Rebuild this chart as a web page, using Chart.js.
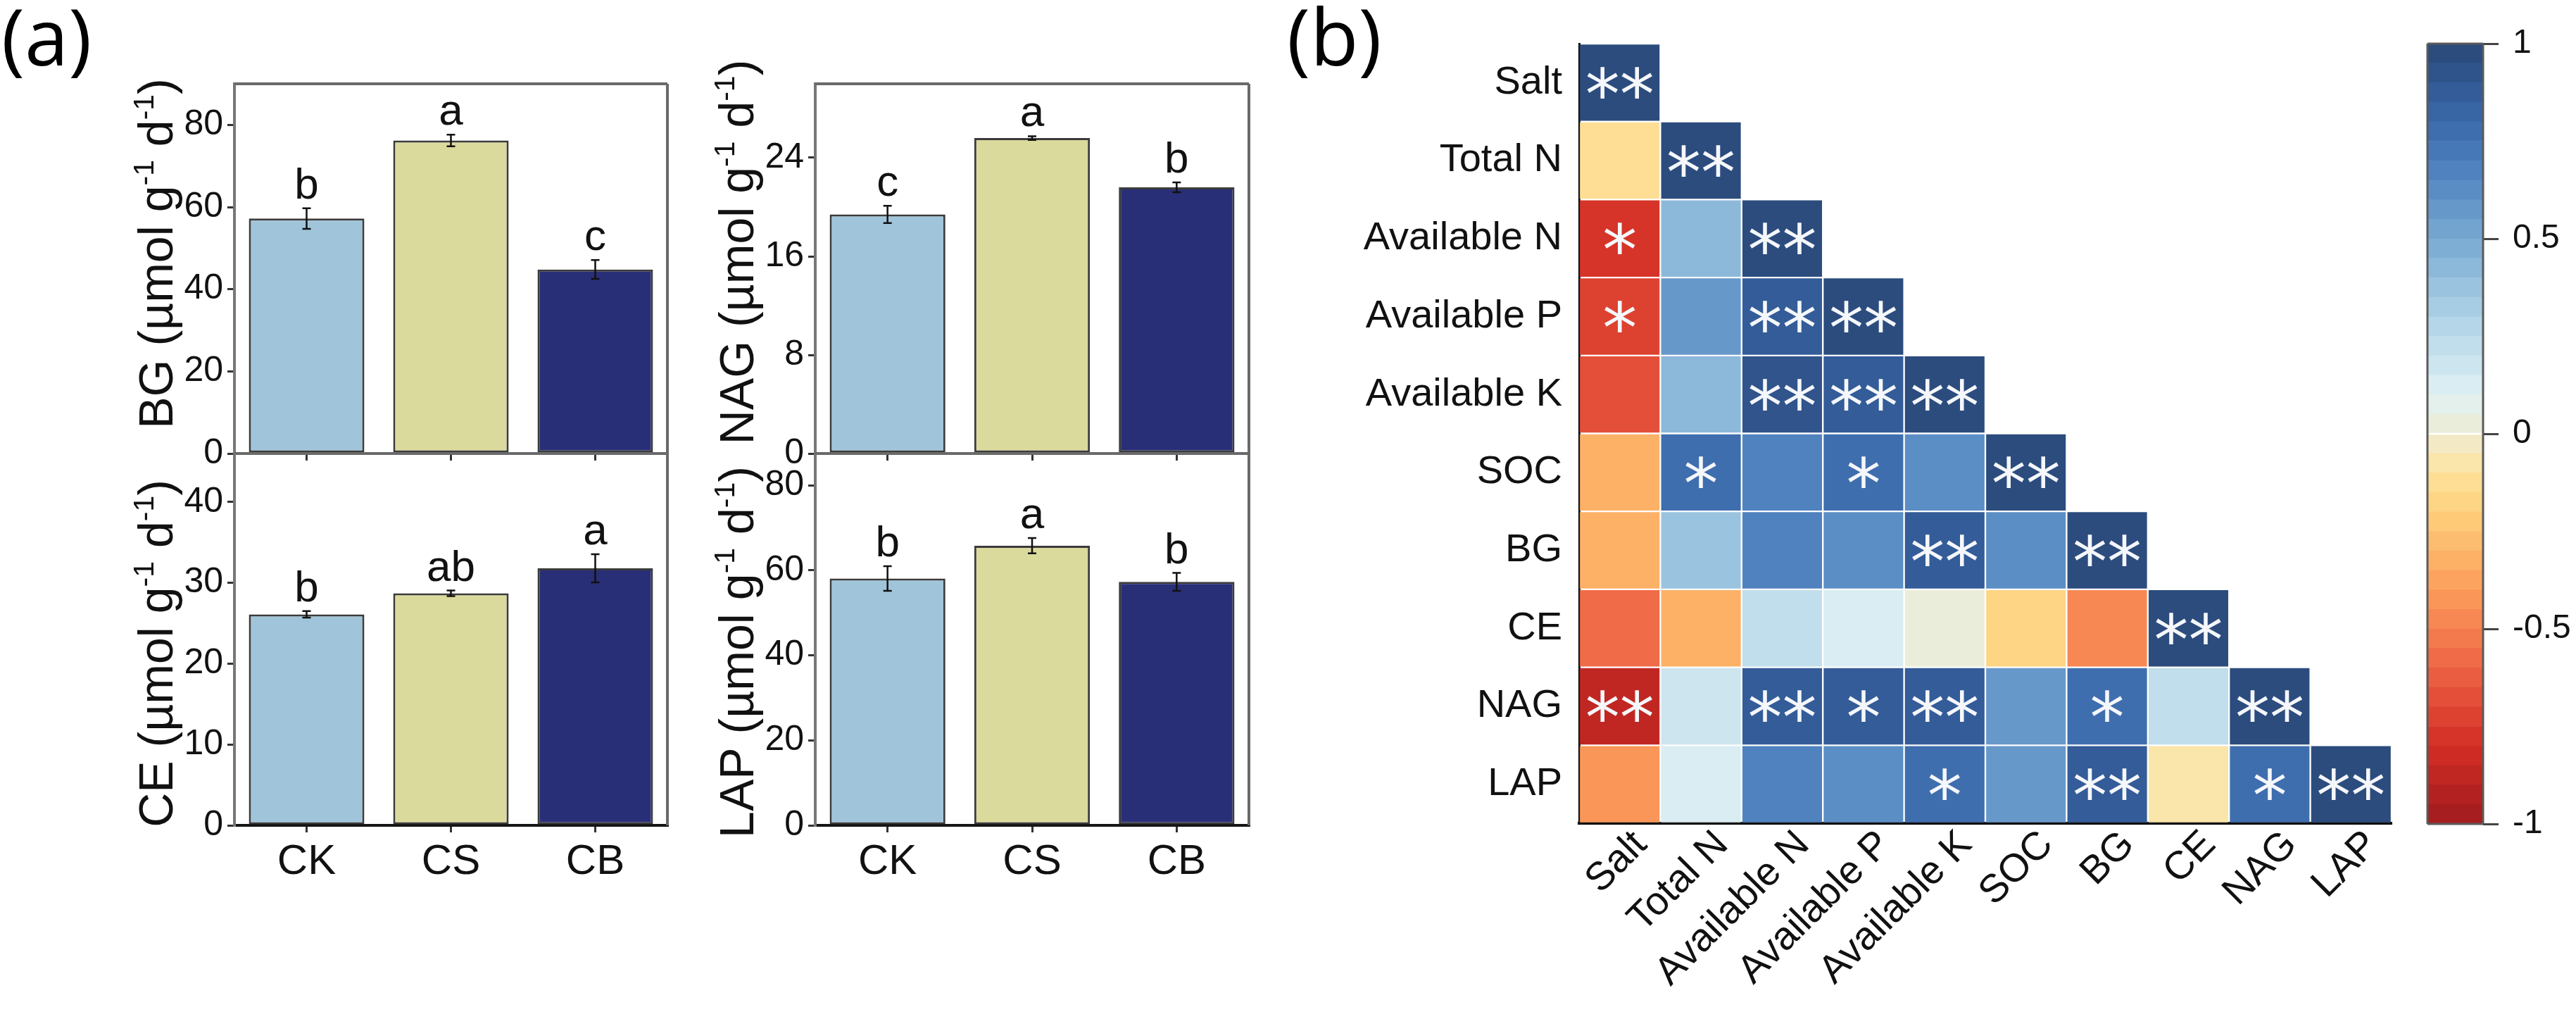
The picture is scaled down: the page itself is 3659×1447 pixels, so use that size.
<!DOCTYPE html>
<html>
<head>
<meta charset="utf-8">
<script src="https://cdn.jsdelivr.net/npm/chart.js@4.4.1/dist/chart.umd.min.js"></script>
<style>
  body { margin: 0; width: 3659px; height: 1447px; background: #fff; position: relative; overflow: hidden; }
  canvas { position: absolute; }
  .panel { position: absolute; font-family: 'Open Sans', 'Liberation Sans', sans-serif; font-size: 112px; line-height: 1; color: #000; }
</style>
</head>
<body>
<div class="panel" style="left:2px; top:-6px">(a)</div>
<div class="panel" style="left:1828px; top:-6px">(b)</div>
<canvas id="cBG"></canvas>
<canvas id="cNAG"></canvas>
<canvas id="cCE"></canvas>
<canvas id="cLAP"></canvas>
<canvas id="cHeat"></canvas>
<canvas id="cBar"></canvas>
<script>
// ---- (a) enzyme activities ----
const groups = ['CK', 'CS', 'CB'];
const barColors = ['#a0c5da', '#dbda9d', '#282f77'];

const bgMean = [57.2, 76.2, 44.8];
const bgErr = [2.5, 1.4, 2.3];
const bgSig = ['b', 'a', 'c'];
const bgTicks = [0, 20, 40, 60, 80];

const nagMean = [19.4, 25.6, 21.6];
const nagErr = [0.7, 0.15, 0.4];
const nagSig = ['c', 'a', 'b'];
const nagTicks = [0, 8, 16, 24];

const ceMean = [26.1, 28.7, 31.8];
const ceErr = [0.4, 0.35, 1.75];
const ceSig = ['b', 'ab', 'a'];
const ceTicks = [0, 10, 20, 30, 40];

const lapMean = [58.1, 65.8, 57.3];
const lapErr = [2.9, 1.8, 2.1];
const lapSig = ['b', 'a', 'b'];
const lapTicks = [0, 20, 40, 60, 80];

// ---- (b) correlation matrix (lower triangle) ----
const vars = ['Salt', 'Total N', 'Available N', 'Available P', 'Available K', 'SOC', 'BG', 'CE', 'NAG', 'LAP'];
const rSalt = [1];
const rTotalN = [-0.12, 1];
const rAvailN = [-0.76, 0.45, 1];
const rAvailP = [-0.74, 0.55, 0.9, 1];
const rAvailK = [-0.65, 0.45, 0.92, 0.86, 1];
const rSOC = [-0.35, 0.78, 0.66, 0.78, 0.6, 1];
const rBG = [-0.3, 0.4, 0.68, 0.62, 0.88, 0.65, 1];
const rCE = [-0.6, -0.35, 0.22, 0.15, 0.03, -0.17, -0.47, 1];
const rNAG = [-0.88, 0.17, 0.88, 0.85, 0.9, 0.56, 0.78, 0.22, 1];
const rLAP = [-0.44, 0.1, 0.68, 0.63, 0.75, 0.58, 0.9, -0.08, 0.78, 1];

const sSalt = ['**'];
const sTotalN = ['', '**'];
const sAvailN = ['*', '', '**'];
const sAvailP = ['*', '', '**', '**'];
const sAvailK = ['', '', '**', '**', '**'];
const sSOC = ['', '*', '', '*', '', '**'];
const sBG = ['', '', '', '', '**', '', '**'];
const sCE = ['', '', '', '', '', '', '', '**'];
const sNAG = ['**', '', '**', '*', '**', '', '*', '', '**'];
const sLAP = ['', '', '', '', '*', '', '**', '', '*', '**'];

const cbarTicks = [-1, -0.5, 0, 0.5, 1];

const corrRows = [rSalt, rTotalN, rAvailN, rAvailP, rAvailK, rSOC, rBG, rCE, rNAG, rLAP];
const sigRows = [sSalt, sTotalN, sAvailN, sAvailP, sAvailK, sSOC, sBG, sCE, sNAG, sLAP];

Chart.defaults.font.family = "'Liberation Sans', Arial, sans-serif";
Chart.defaults.color = '#111';

// colour scale of the correlation plot
const cmapStops = [
  [-1.0, '#a01c1e'], [-0.8, '#d32d25'], [-0.6, '#ee6445'], [-0.4, '#fc9e5b'],
  [-0.2, '#fed07c'], [-0.1, '#fde39c'], [0.0, '#efecd2'], [0.1, '#dff1f4'],
  [0.3, '#aed2e6'], [0.5, '#78a9d2'], [0.7, '#4a7dbd'], [0.85, '#35609f'], [1.0, '#2a4877']
];
function hexToRgb(h) {
  return [parseInt(h.slice(1, 3), 16), parseInt(h.slice(3, 5), 16), parseInt(h.slice(5, 7), 16)];
}
function cmap(v) {
  for (let i = 1; i < cmapStops.length; i++) {
    if (v <= cmapStops[i][0]) {
      const [v0, c0] = cmapStops[i - 1];
      const [v1, c1] = cmapStops[i];
      const t = (v - v0) / (v1 - v0);
      const a = hexToRgb(c0), b = hexToRgb(c1);
      const c = a.map((x, k) => Math.round(x + (b[k] - x) * t));
      return `rgb(${c[0]},${c[1]},${c[2]})`;
    }
  }
  return cmapStops[cmapStops.length - 1][1];
}
const nBands = 40;
function bandColor(v) {
  const k = Math.max(0, Math.min(nBands - 1, Math.floor((v + 1) / (2 / nBands))));
  return cmap(-1 + (k + 0.5) * (2 / nBands));
}

// ---- plugins ----
const framePlugin = {
  id: 'frame',
  afterDraw(chart, args, opts) {
    if (!opts.sides) return;
    const { ctx, chartArea: a } = chart;
    ctx.save();
    ctx.strokeStyle = opts.color;
    ctx.lineWidth = opts.width;
    ctx.beginPath();
    if (opts.sides.includes('t')) { ctx.moveTo(a.left, a.top); ctx.lineTo(a.right, a.top); }
    if (opts.sides.includes('r')) { ctx.moveTo(a.right, a.top); ctx.lineTo(a.right, a.bottom); }
    if (opts.sides.includes('b')) { ctx.moveTo(a.left, a.bottom); ctx.lineTo(a.right, a.bottom); }
    if (opts.sides.includes('l')) { ctx.moveTo(a.left, a.top); ctx.lineTo(a.left, a.bottom); }
    ctx.stroke();
    ctx.restore();
  }
};

// error bars + letters of the post-hoc test
const errPlugin = {
  id: 'errbars',
  afterDatasetsDraw(chart, args, opts) {
    const { ctx, scales: { x, y } } = chart;
    const mean = chart.data.datasets[0].data;
    ctx.save();
    ctx.strokeStyle = '#111';
    ctx.lineWidth = 2.5;
    mean.forEach((m, i) => {
      const px = x.getPixelForValue(i);
      const yt = y.getPixelForValue(m + opts.err[i]);
      const yb = y.getPixelForValue(m - opts.err[i]);
      ctx.beginPath();
      ctx.moveTo(px, yt); ctx.lineTo(px, yb);
      ctx.moveTo(px - 6, yt); ctx.lineTo(px + 6, yt);
      ctx.moveTo(px - 6, yb); ctx.lineTo(px + 6, yb);
      ctx.stroke();
      ctx.fillStyle = '#111';
      ctx.font = "62px 'Liberation Sans', Arial, sans-serif";
      ctx.textAlign = 'center';
      ctx.textBaseline = 'alphabetic';
      ctx.fillText(opts.sig[i], px, yt - 14);
    });
    ctx.restore();
  }
};

// rotated y title with superscripts
const titlePlugin = {
  id: 'ytitle',
  afterDraw(chart, args, opts) {
    const { ctx, chartArea: a } = chart;
    const parts = [[opts.name + ' (\u00b5mol g', 0], ['-1', 1], [' d', 0], ['-1', 1], [')', 0]];
    const big = "68px 'Liberation Sans', Arial, sans-serif";
    const small = "41px 'Liberation Sans', Arial, sans-serif";
    ctx.save();
    let total = 0;
    parts.forEach(p => { ctx.font = p[1] ? small : big; total += ctx.measureText(p[0]).width; });
    ctx.translate(a.left - 88, opts.cy);
    ctx.rotate(-Math.PI / 2);
    ctx.fillStyle = '#111';
    ctx.textBaseline = 'alphabetic';
    ctx.textAlign = 'left';
    let cx = -total / 2;
    parts.forEach(p => {
      ctx.font = p[1] ? small : big;
      ctx.fillText(p[0], cx, p[1] ? -27 : 0);
      cx += ctx.measureText(p[0]).width;
    });
    ctx.restore();
  }
};

function place(cv, left, top, w, h) {
  cv.width = w; cv.height = h;
  cv.style.left = left + 'px'; cv.style.top = top + 'px';
}

function barChart(id, box, mean, err, sig, ticks, yMax, name, titleY, showLabels) {
  const cv = document.getElementById(id);
  const left = box.L - 200, top = box.T - 30;
  const xh = showLabels ? 100 : 20;
  place(cv, left, top, box.R + 12 - left, box.B + xh - top);
  new Chart(cv, {
    type: 'bar',
    data: {
      labels: groups,
      datasets: [{
        data: mean,
        backgroundColor: barColors,
        borderColor: '#3b3b3b',
        borderWidth: 3,
        borderSkipped: false,
        barPercentage: 0.8,
        categoryPercentage: 1
      }]
    },
    options: {
      responsive: false,
      animation: false,
      devicePixelRatio: 1,
      layout: { padding: { left: 0, right: 12, top: 30, bottom: 0 } },
      plugins: {
        legend: { display: false },
        tooltip: { enabled: false },
        frame: { sides: 'tr', color: '#6a6a6a', width: 4 },
        errbars: { err: err, sig: sig },
        ytitle: { name: name, cy: titleY - top }
      },
      scales: {
        x: {
          z: 1,
          grid: { display: true, drawOnChartArea: false, drawTicks: true, tickLength: 10, offset: false, color: '#333', lineWidth: 3 },
          border: { display: true, color: '#151515', width: 4 },
          ticks: { display: showLabels, font: { size: 60 }, padding: 6, color: '#111' },
          afterFit(s) { s.height = xh; s.paddingLeft = 0; s.paddingRight = 0; }
        },
        y: {
          z: 1,
          min: 0,
          max: yMax,
          grid: { display: true, drawOnChartArea: false, drawTicks: true, tickLength: 10, color: '#333', lineWidth: 3 },
          border: { display: true, color: '#777', width: 4 },
          ticks: { font: { size: 50 }, padding: 6, color: '#111' },
          afterBuildTicks(s) { s.ticks = ticks.map(v => ({ value: v })); },
          afterFit(s) { s.width = 200; s.paddingTop = 0; s.paddingBottom = 0; }
        }
      }
    },
    plugins: [framePlugin, errPlugin, titlePlugin]
  });
}

barChart('cBG', { L: 333, R: 948, T: 119, B: 644 }, bgMean, bgErr, bgSig, bgTicks, 90, 'BG', 360, false);
barChart('cNAG', { L: 1158, R: 1774, T: 119, B: 644 }, nagMean, nagErr, nagSig, nagTicks, 30, 'NAG', 358, false);
barChart('cCE', { L: 333, R: 948, T: 644, B: 1172 }, ceMean, ceErr, ceSig, ceTicks, 46, 'CE', 928, true);
barChart('cLAP', { L: 1158, R: 1774, T: 644, B: 1172 }, lapMean, lapErr, lapSig, lapTicks, 87.5, 'LAP', 926, true);

// ---- (b) heat map ----
const starPlugin = {
  id: 'stars',
  afterDatasetsDraw(chart) {
    const { ctx, scales: { x, y } } = chart;
    ctx.save();
    ctx.fillStyle = '#f5f7fb';
    ctx.font = "98px 'DejaVu Sans', sans-serif";
    ctx.textAlign = 'center';
    ctx.textBaseline = 'alphabetic';
    const m = ctx.measureText('*');
    const off = (m.actualBoundingBoxAscent - m.actualBoundingBoxDescent) / 2;
    sigRows.forEach((row, i) => {
      row.forEach((s, j) => {
        if (!s) return;
        ctx.fillText(s, x.getPixelForValue(j), y.getPixelForValue(i) + off);
      });
    });
    ctx.restore();
  }
};

const heatSets = corrRows.map((row, i) => ({
  data: vars.map((_, j) => (j <= i ? [i - 0.5, i + 0.5] : null)),
  backgroundColor: vars.map((_, j) => (j <= i ? bandColor(row[j]) : 'rgba(0,0,0,0)')),
  borderColor: 'rgba(255,255,255,0.12)',
  borderWidth: 1.5,
  borderSkipped: false,
  grouped: false,
  barPercentage: 1,
  categoryPercentage: 1
}));

const hv = document.getElementById('cHeat');
place(hv, 1880, 40, 1540, 1407);
new Chart(hv, {
  type: 'bar',
  data: { labels: vars, datasets: heatSets },
  options: {
    responsive: false,
    animation: false,
    devicePixelRatio: 1,
    layout: { padding: { left: 0, right: 23, top: 22, bottom: 0 } },
    plugins: { legend: { display: false }, tooltip: { enabled: false } },
    scales: {
      x: {
        z: 1,
        grid: { display: false, drawTicks: false },
        border: { display: true, color: '#000', width: 4 },
        ticks: { font: { size: 56 }, color: '#111', minRotation: 45, maxRotation: 45, autoSkip: false, padding: -2, labelOffset: 30 },
        afterFit(s) { s.height = 278; s.paddingLeft = 0; s.paddingRight = 0; }
      },
      y: {
        z: 1,
        min: -0.5,
        max: 9.5,
        reverse: true,
        grid: { display: false, drawTicks: false },
        border: { display: true, color: '#000', width: 3 },
        ticks: { font: { size: 56 }, color: '#111', padding: 24, callback: v => vars[v] },
        afterBuildTicks(s) { s.ticks = vars.map((_, i) => ({ value: i })); },
        afterFit(s) { s.width = 363; s.paddingTop = 0; s.paddingBottom = 0; }
      }
    }
  },
  plugins: [starPlugin]
});

// ---- colour bar ----
const bandSets = [];
for (let k = 0; k < nBands; k++) {
  const lo = -1 + k * (2 / nBands), hi = lo + 2 / nBands;
  bandSets.push({
    data: [[lo, hi]],
    backgroundColor: cmap((lo + hi) / 2),
    borderWidth: 0,
    grouped: false,
    barPercentage: 1,
    categoryPercentage: 1
  });
}
const bv = document.getElementById('cBar');
place(bv, 3400, 40, 259, 1160);
new Chart(bv, {
  type: 'bar',
  data: { labels: [''], datasets: bandSets },
  options: {
    responsive: false,
    animation: false,
    devicePixelRatio: 1,
    layout: { padding: { left: 48, right: 0, top: 22, bottom: 30 } },
    plugins: {
      legend: { display: false },
      tooltip: { enabled: false },
      frame: { sides: 'tlrb', color: '#5a5a5a', width: 3 }
    },
    scales: {
      x: { display: false },
      y: {
        position: 'right',
        min: -1,
        max: 1,
        grid: { display: true, drawOnChartArea: false, drawTicks: true, tickLength: 22, color: '#444', lineWidth: 3 },
        border: { display: false },
        ticks: { font: { size: 48 }, color: '#111', padding: 20, callback: v => String(v) },
        afterBuildTicks(s) { s.ticks = cbarTicks.map(v => ({ value: v })); },
        afterFit(s) { s.width = 132; s.paddingTop = 0; s.paddingBottom = 0; }
      }
    }
  },
  plugins: [framePlugin]
});
</script>
</body>
</html>
